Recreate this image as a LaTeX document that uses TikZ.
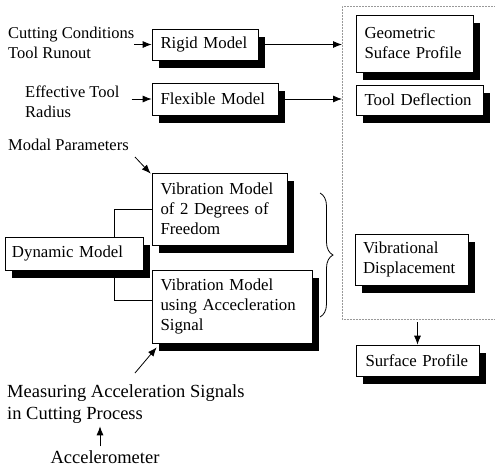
\documentclass[tikz,border=0pt]{standalone}
\usepackage{fontspec}
\setmainfont{Liberation Serif}
\usetikzlibrary{arrows.meta,shadows,decorations.pathreplacing}
\begin{document}
\begin{tikzpicture}[x=1pt,y=-1pt,
  every node/.style={inner sep=0pt},
  lbl/.style={font=\fontsize{16.5}{20}\selectfont, align=left, anchor=west},
  biglbl/.style={font=\fontsize{18.5}{21.5}\selectfont, align=left, anchor=west},
  boxnode/.style={draw, line width=0.7pt, fill=white, font=\fontsize{16.8}{20}\selectfont,
     align=left, anchor=center, inner xsep=8.5pt,
     drop shadow={shadow xshift=6.5pt, shadow yshift=-7.5pt, opacity=1, fill=black}},
  conn/.style={line width=0.8pt},
  arr/.style={conn, -{Latex[length=9pt,width=7pt]}},
  dotframe/.style={gray!80, line width=0.5pt, densely dotted}
]
\useasboundingbox (0,0) rectangle (496,467);

% boxes
\node[boxnode, minimum width=106pt, minimum height=31pt, text width=89pt] (rigid) at (205,44.5) {Rigid Model};
\node[boxnode, minimum width=126pt, minimum height=32pt, text width=109pt] (flex) at (215,99) {Flexible Model};
\node[boxnode, minimum width=117pt, minimum height=57pt, text width=100pt] (geo) at (414.5,43.5) {Geometric\\Suface Profile};
\node[boxnode, minimum width=127pt, minimum height=30pt, text width=110pt] (tdef) at (419.5,100) {Tool Deflection};
\node[boxnode, minimum width=135pt, minimum height=72pt, text width=118pt] (vib1) at (219.5,209) {Vibration Model\\of 2 Degrees of\\Freedom};
\node[boxnode, minimum width=138pt, minimum height=33pt, text width=124pt, inner xsep=7pt] (dyn) at (74,253.5) {Dynamic Model};
\node[boxnode, minimum width=160pt, minimum height=73pt, text width=143pt] (vib2) at (232,306.5) {Vibration Model\\using Accecleration\\Signal};
\node[boxnode, minimum width=113pt, minimum height=51pt, text width=97pt, inner xsep=8pt] (vdisp) at (411.5,259.5) {Vibrational\\Displacement};
\node[boxnode, minimum width=123pt, minimum height=31pt, text width=104pt, inner xsep=9.5pt] (surf) at (417.5,360.5) {Surface Profile};

% labels
\node[lbl] (cc) at (8,43) {Cutting Conditions\\Tool Runout};
\node[lbl] (eff) at (25,102) {Effective Tool\\Radius};
\node[lbl] (modal) at (8,145) {Modal Parameters};
\node[biglbl] (meas) at (7,404) {Measuring Acceleration Signals\\in Cutting Process};
\node[biglbl, anchor=center] (acc) at (105,457) {Accelerometer};

% dotted frame
\coordinate (ftl) at (342,6);
\coordinate (fbl) at (342,319);
\draw[dotframe] (494,6) -- (ftl) -- (fbl) -- (494,319);

% connectors
\draw[arr] (cc.east |- rigid.west) -- (rigid.west);
\draw[arr] ([xshift=12pt]eff.east |- flex.west) -- (flex.west);
\draw[arr] ([xshift=6.5pt]rigid.east) -- (ftl |- rigid.east);
\draw[arr] ([xshift=6.5pt]flex.east) -- (ftl |- flex.east);
\coordinate (modalend) at (135,157);
\draw[arr] (modalend) -- ([xshift=-1pt,yshift=-1pt]vib1.north west);
\draw[conn] (114,237) |- (vib1.west);
\draw[conn] (114,277.5) |- (vib2.west |- 0,300);
\draw[conn, decorate, decoration={brace, amplitude=13pt}] (320,193) -- (320,317);
\draw[arr] (fbl -| surf.north) ++(0,3) -- (surf.north);
\coordinate (measend) at (135,373);
\draw[arr] (measend) -- ([xshift=5pt,yshift=-4pt]vib2.south west);
\draw[arr] (acc.north) ++(-5,-4) -- ++(0,-20);
\end{tikzpicture}
\end{document}
